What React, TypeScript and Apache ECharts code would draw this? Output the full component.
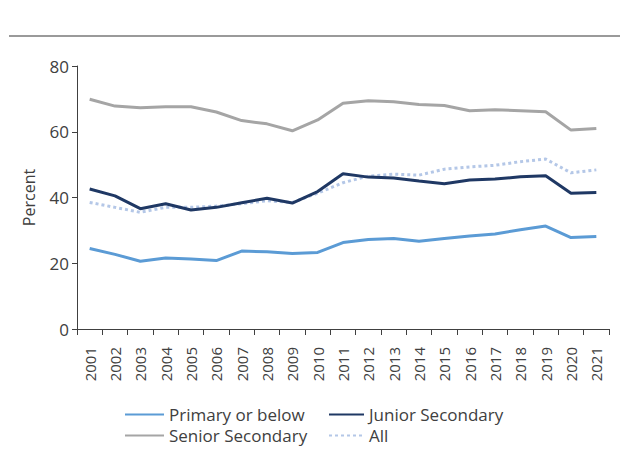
import React, { useEffect, useRef } from "react";
import * as echarts from "echarts";

const years = ["2001","2002","2003","2004","2005","2006","2007","2008","2009","2010","2011","2012","2013","2014","2015","2016","2017","2018","2019","2020","2021"];
const primary = [24.5,22.7,20.6,21.6,21.3,20.8,23.7,23.5,23.0,23.3,26.3,27.2,27.5,26.7,27.5,28.3,28.9,30.2,31.3,27.8,28.1];
const junior = [42.6,40.5,36.6,38.1,36.2,37.0,38.4,39.8,38.3,41.8,47.2,46.2,45.9,45.0,44.2,45.3,45.6,46.3,46.6,41.3,41.5];
const senior = [69.9,67.8,67.3,67.6,67.6,66.0,63.4,62.4,60.3,63.6,68.7,69.4,69.1,68.3,68.0,66.4,66.7,66.4,66.1,60.5,61.0];
const all = [38.5,37.0,35.5,37.0,37.0,37.4,38.1,39.0,38.5,41.3,44.5,46.5,47.1,46.8,48.6,49.3,49.8,50.9,51.7,47.5,48.4];
const yTicks = [0, 20, 40, 60, 80];

const FONT = "'Open Sans', 'Noto Sans', sans-serif";
const TXT = "#404040";

export default function App() {
  const ref = useRef<HTMLDivElement>(null);
  useEffect(() => {
    const chart = echarts.init(ref.current!, null, { renderer: "svg" });
    const mkLine = (name: string, data: number[], color: string, type: any = "solid") => ({
      name,
      type: "line",
      data,
      symbol: "none",
      showSymbol: false,
      lineStyle: { color, width: 3, type },
      itemStyle: { color },
      z: name === "All" ? 1 : 2,
    });
    const mkLegend = (name: string, left: number, top: number, w: number) => ({
      data: [name],
      left,
      top,
      itemWidth: w,
      itemHeight: 14,
      itemGap: 10,
      itemStyle: { opacity: 0 },
      textStyle: { fontFamily: FONT, fontSize: 17, color: TXT },
    });
    chart.setOption({
      animation: false,
      textStyle: { fontFamily: FONT },
      grid: { left: 77, right: 11, top: 66, bottom: 122 },
      graphic: [
        { type: "line", shape: { x1: 9, y1: 36, x2: 620, y2: 36 }, style: { stroke: "#9a9a9a", lineWidth: 2 } },
      ],
      legend: [
        mkLegend("Primary or below", 119, 401, 39),
        mkLegend("Junior Secondary", 323, 401, 35),
        mkLegend("Senior Secondary", 119, 422, 39),
        mkLegend("All", 323, 422, 35),
      ],
      xAxis: {
        type: "category",
        data: years,
        boundaryGap: true,
        axisLine: { lineStyle: { color: "#404040", width: 1 } },
        axisTick: { show: true, length: 6, lineStyle: { color: "#404040" } },
        axisLabel: { rotate: 90, fontSize: 15, color: TXT, fontFamily: FONT, margin: 18, interval: 0 },
      },
      yAxis: {
        type: "value",
        min: yTicks[0],
        max: yTicks[yTicks.length - 1],
        interval: 20,
        name: "Percent",
        nameLocation: "middle",
        nameGap: 40,
        nameTextStyle: { fontSize: 16, color: TXT, fontFamily: FONT },
        axisLine: { show: true, lineStyle: { color: "#404040", width: 1 } },
        axisTick: { show: true, length: 5, lineStyle: { color: "#404040" } },
        splitLine: { show: false },
        axisLabel: { fontSize: 17, color: TXT, fontFamily: FONT, margin: 8 },
      },
      series: [
        mkLine("Primary or below", primary, "#5b9bd5"),
        mkLine("Junior Secondary", junior, "#1f3864"),
        mkLine("Senior Secondary", senior, "#a5a5a5"),
        mkLine("All", all, "#b4c7e7", [3, 3]),
      ],
    });
    return () => chart.dispose();
  }, []);
  return <div ref={ref} style={{ width: 620, height: 451, position: "absolute", left: 0, top: 0 }} />;
}
